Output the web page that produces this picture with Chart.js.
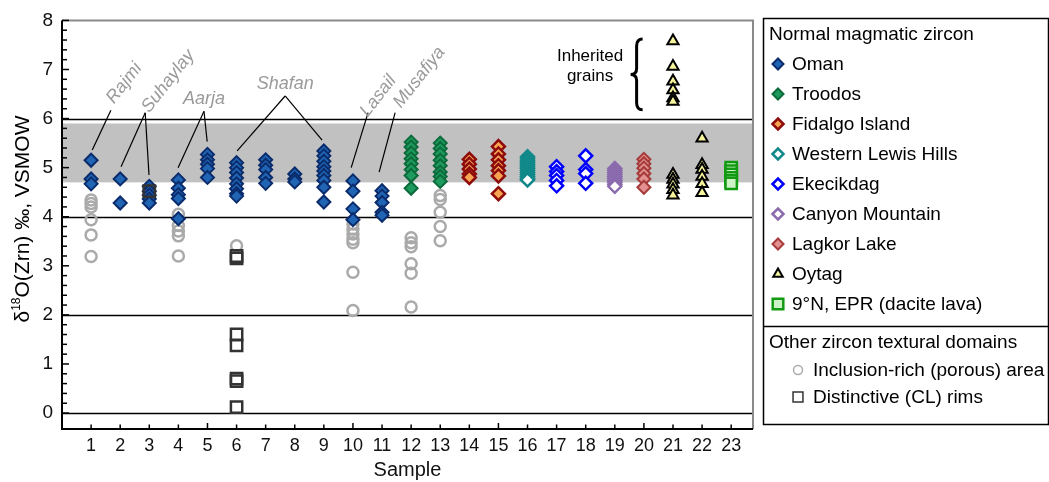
<!DOCTYPE html>
<html>
<head>
<meta charset="utf-8">
<script src="https://cdn.jsdelivr.net/npm/chart.js@4.4.0/dist/chart.umd.min.js"></script>
<style>
html, body { margin: 0; padding: 0; background: #fff; }
</style>
</head>
<body>
<canvas id="zirconChart" width="1049" height="482"></canvas>
<script>
const FONT = '"Liberation Sans", Arial, sans-serif';

// sample numbers on the x axis
const samples = [1, 2, 3, 4, 5, 6, 7, 8, 9, 10, 11, 12, 13, 14, 15, 16, 17, 18, 19, 20, 21, 22, 23];
const yTicks = [0, 1, 2, 3, 4, 5, 6, 7, 8];

// normal magmatic zircon, d18O per sample
const omanSamples = [1, 2, 3, 4, 5, 6, 7, 8, 9, 10, 11];
const omanValues = [
    [5.15, 4.77, 4.67],
    [4.77, 4.28],
    [4.62, 4.52, 4.44, 4.36, 4.28],
    [4.75, 4.58, 4.45, 4.37, 3.96],
    [5.27, 5.16, 5.07, 4.98, 4.8],
    [5.1, 5.0, 4.9, 4.79, 4.67, 4.57, 4.47, 4.42],
    [5.16, 5.05, 4.96, 4.8, 4.68],
    [4.87, 4.77, 4.71],
    [5.34, 5.24, 5.13, 5.02, 4.93, 4.84, 4.74, 4.6, 4.3],
    [4.73, 4.52, 4.16, 3.94],
    [4.53, 4.42, 4.29, 4.09, 4.03]
];
const troodosSamples = [12, 13];
const troodosValues = [
    [5.52, 5.42, 5.3, 5.18, 5.08, 4.96, 4.84, 4.58],
    [5.5, 5.39, 5.28, 5.15, 5.04, 4.91, 4.82, 4.72]
];
const fidalgoSamples = [14, 15];
const fidalgoValues = [
    [5.17, 5.07, 4.97, 4.87, 4.8],
    [5.43, 5.28, 5.16, 5.04, 4.94, 4.83, 4.47]
];
const lewisSamples = [16];
const lewisValues = [[5.22, 5.18, 5.14, 5.1, 5.06, 5.02, 4.98, 4.94, 4.9, 4.86, 4.82, 4.78, 4.75]];
const ekecikSamples = [17, 18];
const ekecikValues = [
    [5.02, 4.92, 4.84, 4.74, 4.63],
    [5.24, 4.96, 4.88, 4.68]
];
const canyonSamples = [19];
const canyonValues = [[4.98, 4.94, 4.9, 4.86, 4.82, 4.78, 4.74, 4.7, 4.66, 4.62]];
const lagkorSamples = [20];
const lagkorValues = [[5.17, 5.08, 4.99, 4.88, 4.77, 4.6]];
const oytagSamples = [21, 22];
const oytagValues = [
    [7.58, 7.06, 6.76, 6.58, 6.42, 6.35, 4.86, 4.76, 4.66, 4.55, 4.44],
    [5.6, 5.06, 4.96, 4.82, 4.67, 4.49]
];
const eprSamples = [23];
const eprValues = [[5.0, 4.93, 4.86, 4.79, 4.73, 4.68]];

// other textural domains
const porousSamples = [1, 4, 6, 10, 12, 13];
const porousValues = [
    [4.34, 4.27, 4.2, 3.94, 3.63, 3.19],
    [4.05, 3.82, 3.71, 3.61, 3.2],
    [3.41],
    [3.85, 3.75, 3.65, 3.54, 3.47, 2.87, 2.09],
    [3.57, 3.47, 3.39, 3.04, 2.85, 2.16],
    [4.43, 4.35, 4.09, 3.8, 3.51]
];
const rimSamples = [3, 6];
const rimValues = [
    [4.52],
    [3.2, 3.15, 1.6, 1.38, 0.7, 0.65, 0.12]
];

// gray reference band and black guide lines
const bandRange = [4.7, 5.9];
const guideLines = [0, 2, 4, 6];

// locality labels: text, label anchor, angle, leader lines [x1,y1,x2,y2]
const localityLabels = [
    { text: 'Rajmi', at: [2.14, 6.72], angle: -52, lines: [[1.68, 6.17, 1.04, 5.36]] },
    { text: 'Suhaylay', at: [3.65, 6.76], angle: -52, lines: [[2.86, 6.12, 2.03, 5.02], [2.86, 6.12, 2.99, 4.85]] },
    { text: 'Aarja', at: [4.88, 6.4], angle: 0, lines: [[4.88, 6.15, 3.99, 5.0], [4.88, 6.15, 4.99, 5.53]] },
    { text: 'Shafan', at: [7.67, 6.7], angle: 0, lines: [[7.67, 6.46, 6.02, 5.34], [7.67, 6.46, 8.94, 5.56]] },
    { text: 'Lasail', at: [10.87, 6.46], angle: -52, lines: [[10.52, 6.12, 9.94, 5.0]] },
    { text: 'Musafiya', at: [12.28, 6.84], angle: -52, lines: [[11.45, 6.12, 10.9, 4.91]] }
];

function toPoints(sampleList, valueList) {
    const pts = [];
    sampleList.forEach((s, i) => {
        valueList[i].forEach(v => pts.push({ x: s, y: v }));
    });
    return pts;
}

const styles = {
    oman:    { pointStyle: 'rectRot', radius: 6.5, fill: '#2064b4', border: '#0b2c6c', width: 2 },
    troodos: { pointStyle: 'rectRot', radius: 6.5, fill: '#1d9b5d', border: '#0c6a3b', width: 2 },
    fidalgo: { pointStyle: 'rectRot', radius: 6.5, fill: '#f6a352', border: '#8e0b0b', width: 2.5 },
    lewis:   { pointStyle: 'rectRot', radius: 6.5, fill: '#ffffff', border: '#11898a', width: 2.5 },
    ekecik:  { pointStyle: 'rectRot', radius: 6.5, fill: '#ffffff', border: '#0000ff', width: 2.5 },
    canyon:  { pointStyle: 'rectRot', radius: 6.5, fill: '#ffffff', border: '#8a6bad', width: 2.5 },
    lagkor:  { pointStyle: 'rectRot', radius: 6.5, fill: '#e49090', border: '#a53b3b', width: 2 },
    oytag:   { pointStyle: 'triangle', radius: 6.5, fill: '#f7f59c', border: '#000000', width: 2 },
    epr:     { pointStyle: 'rect', radius: 8, fill: '#cdf2c6', border: '#129a12', width: 2.5 },
    porous:  { pointStyle: 'circle', radius: 5.5, fill: 'rgba(0,0,0,0)', border: '#aaaaaa', width: 2.5 },
    rim:     { pointStyle: 'rect', radius: 8, fill: 'rgba(0,0,0,0)', border: '#333333', width: 2.5 }
};

function series(label, sampleList, valueList, st, order) {
    return {
        label: label,
        data: toPoints(sampleList, valueList),
        order: order,
        pointStyle: st.pointStyle,
        pointRadius: st.radius,
        pointHoverRadius: st.radius,
        pointBackgroundColor: st.fill,
        pointBorderColor: st.border,
        pointBorderWidth: st.width,
        pointHoverBorderWidth: st.width
    };
}

const datasets = [
    series('Oman', omanSamples, omanValues, styles.oman, 2),
    series('Troodos', troodosSamples, troodosValues, styles.troodos, 2),
    series('Fidalgo Island', fidalgoSamples, fidalgoValues, styles.fidalgo, 2),
    series('Western Lewis Hills', lewisSamples, lewisValues, styles.lewis, 2),
    series('Ekecikdag', ekecikSamples, ekecikValues, styles.ekecik, 2),
    series('Canyon Mountain', canyonSamples, canyonValues, styles.canyon, 2),
    series('Lagkor Lake', lagkorSamples, lagkorValues, styles.lagkor, 2),
    series('Oytag', oytagSamples, oytagValues, styles.oytag, 2),
    series('9°N, EPR (dacite lava)', eprSamples, eprValues, styles.epr, 2),
    series('Inclusion-rich (porous) area', porousSamples, porousValues, styles.porous, 3),
    series('Distinctive (CL) rims', rimSamples, rimValues, styles.rim, 1)
];

const legendEntries = [
    ['Oman', styles.oman], ['Troodos', styles.troodos], ['Fidalgo Island', styles.fidalgo],
    ['Western Lewis Hills', styles.lewis], ['Ekecikdag', styles.ekecik], ['Canyon Mountain', styles.canyon],
    ['Lagkor Lake', styles.lagkor], ['Oytag', styles.oytag], ['9°N, EPR (dacite lava)', styles.epr]
];
const otherEntries = [
    ['Inclusion-rich (porous) area', styles.porous], ['Distinctive (CL) rims', styles.rim]
];

function marker(ctx, st, x, y, radius) {
    ctx.save();
    ctx.fillStyle = st.fill;
    ctx.strokeStyle = st.border;
    ctx.lineWidth = st.width;
    Chart.helpers.drawPoint(ctx, { pointStyle: st.pointStyle, radius: radius, rotation: 0, borderWidth: st.width }, x, y);
    ctx.restore();
}

const decorations = {
    id: 'decorations',
    beforeDatasetsDraw(chart) {
        const { ctx, chartArea: a, scales: { x, y } } = chart;
        ctx.save();
        // band
        ctx.fillStyle = '#c1c1c1';
        const bTop = y.getPixelForValue(bandRange[1]);
        const bBot = y.getPixelForValue(bandRange[0]);
        ctx.fillRect(a.left, bTop, a.right - a.left, bBot - bTop);
        // guide lines
        ctx.strokeStyle = '#000';
        ctx.lineWidth = 1.5;
        guideLines.forEach(v => {
            const py = Math.round(y.getPixelForValue(v)) + 0.5;
            ctx.beginPath();
            ctx.moveTo(a.left, py);
            ctx.lineTo(a.right, py);
            ctx.stroke();
        });
        // locality labels
        ctx.lineWidth = 1.2;
        localityLabels.forEach(lab => {
            lab.lines.forEach(l => {
                ctx.beginPath();
                ctx.moveTo(x.getPixelForValue(l[0]), y.getPixelForValue(l[1]));
                ctx.lineTo(x.getPixelForValue(l[2]), y.getPixelForValue(l[3]));
                ctx.stroke();
            });
            ctx.save();
            ctx.translate(x.getPixelForValue(lab.at[0]), y.getPixelForValue(lab.at[1]));
            ctx.rotate(lab.angle * Math.PI / 180);
            ctx.fillStyle = '#9a9a9a';
            ctx.font = 'italic 18px ' + FONT;
            ctx.textAlign = 'center';
            ctx.textBaseline = 'middle';
            ctx.fillText(lab.text, 0, 0);
            ctx.restore();
        });
        // inherited grains note
        ctx.fillStyle = '#000';
        ctx.font = '17px ' + FONT;
        ctx.textAlign = 'center';
        ctx.textBaseline = 'middle';
        ctx.fillText('Inherited', x.getPixelForValue(18.15), y.getPixelForValue(7.27));
        ctx.fillText('grains', x.getPixelForValue(18.15), y.getPixelForValue(6.86));
        const bx = x.getPixelForValue(19.75);
        const yT = y.getPixelForValue(7.62);
        const yB = y.getPixelForValue(6.18);
        const mid = (yT + yB) / 2;
        ctx.lineWidth = 3;
        ctx.beginPath();
        ctx.moveTo(bx + 6, yT);
        ctx.quadraticCurveTo(bx, yT, bx, yT + 7);
        ctx.lineTo(bx, mid - 6);
        ctx.quadraticCurveTo(bx, mid, bx - 6, mid);
        ctx.quadraticCurveTo(bx, mid, bx, mid + 6);
        ctx.lineTo(bx, yB - 7);
        ctx.quadraticCurveTo(bx, yB, bx + 6, yB);
        ctx.stroke();
        ctx.restore();
    },
    afterDraw(chart) {
        const { ctx, chartArea: a, scales: { x, y } } = chart;
        ctx.save();
        // frame
        ctx.lineWidth = 2;
        ctx.strokeStyle = '#8a8a8a';
        ctx.beginPath();
        ctx.moveTo(a.left, a.top);
        ctx.lineTo(a.right, a.top);
        ctx.lineTo(a.right, a.bottom);
        ctx.stroke();
        ctx.strokeStyle = '#000';
        ctx.beginPath();
        ctx.moveTo(a.left, a.top);
        ctx.lineTo(a.left, a.bottom);
        ctx.lineTo(a.right, a.bottom);
        ctx.stroke();
        // inward ticks
        ctx.lineWidth = 1.5;
        for (let i = 0; i <= 40; i++) {
            const py = y.getPixelForValue(i / 5);
            const len = i % 5 === 0 ? 7 : 5;
            ctx.beginPath();
            ctx.moveTo(a.left, py);
            ctx.lineTo(a.left + len, py);
            ctx.stroke();
        }
        for (let i = 0; i <= 23; i++) {
            const px = x.getPixelForValue(i);
            const len = i % 5 === 0 ? 6 : 4.5;
            ctx.beginPath();
            ctx.moveTo(px, a.bottom);
            ctx.lineTo(px, a.bottom - len);
            ctx.stroke();
        }
        // y axis title with superscript
        ctx.translate(23, 219);
        ctx.rotate(-Math.PI / 2);
        ctx.fillStyle = '#000';
        ctx.textBaseline = 'middle';
        ctx.textAlign = 'left';
        const big = '21px ' + FONT;
        const small = '12px ' + FONT;
        const parts = [['δ', big, 0], ['18', small, -6], ['O(Zrn) ‰, VSMOW', big, 0]];
        let total = 0;
        parts.forEach(p => { ctx.font = p[1]; total += ctx.measureText(p[0]).width; });
        let cx = -total / 2;
        parts.forEach(p => {
            ctx.font = p[1];
            ctx.fillText(p[0], cx, p[2]);
            cx += ctx.measureText(p[0]).width;
        });
        ctx.restore();

        // legend box
        ctx.save();
        ctx.strokeStyle = '#000';
        ctx.lineWidth = 1.5;
        ctx.strokeRect(763.5, 18.5, 285, 406);
        ctx.beginPath();
        ctx.moveTo(763.5, 326.5);
        ctx.lineTo(1049, 326.5);
        ctx.stroke();
        ctx.fillStyle = '#000';
        ctx.textBaseline = 'middle';
        ctx.textAlign = 'left';
        ctx.font = '19px ' + FONT;
        ctx.fillText('Normal magmatic zircon', 769, 35);
        legendEntries.forEach((e, i) => {
            const ly = 64 + i * 30;
            const r = e[1].pointStyle === 'rect' ? 7.5 : 5.5;
            marker(ctx, e[1], 778, ly, r);
            ctx.fillStyle = '#000';
            ctx.font = '19px ' + FONT;
            ctx.fillText(e[0], 792, ly + 1);
        });
        ctx.fillText('Other zircon textural domains', 769, 343);
        otherEntries.forEach((e, i) => {
            const ly = 370 + i * 27;
            const st = Object.assign({}, e[1], { width: 1.5 });
            marker(ctx, st, 798, ly, e[1].pointStyle === 'rect' ? 7 : 4.5);
            ctx.fillStyle = '#000';
            ctx.font = '19px ' + FONT;
            ctx.fillText(e[0], 813, ly + 1);
        });
        ctx.restore();
    }
};

const ctx = document.getElementById('zirconChart').getContext('2d');
const zirconChart = new Chart(ctx, {
    type: 'scatter',
    data: { datasets: datasets },
    options: {
        responsive: false,
        animation: false,
        layout: { padding: { top: 19, right: 296, left: 0, bottom: 0 } },
        plugins: {
            legend: { display: false },
            tooltip: { enabled: false }
        },
        scales: {
            x: {
                type: 'linear',
                min: 0,
                max: 23.75,
                afterFit: s => { s.height = 53; },
                afterBuildTicks: s => { s.ticks = samples.map(v => ({ value: v })); },
                grid: { display: false, drawTicks: false },
                border: { display: false },
                ticks: { color: '#111', padding: 6, font: { size: 18, family: FONT } },
                title: { display: true, text: 'Sample', color: '#111', padding: 0, font: { size: 20, family: FONT } }
            },
            y: {
                type: 'linear',
                min: -0.325,
                max: 8,
                afterFit: s => { s.width = 62; },
                afterBuildTicks: s => { s.ticks = yTicks.map(v => ({ value: v })); },
                grid: { display: false, drawTicks: false },
                border: { display: false },
                ticks: { color: '#111', padding: 9, font: { size: 19, family: FONT } }
            }
        }
    },
    plugins: [decorations]
});
</script>
</body>
</html>
